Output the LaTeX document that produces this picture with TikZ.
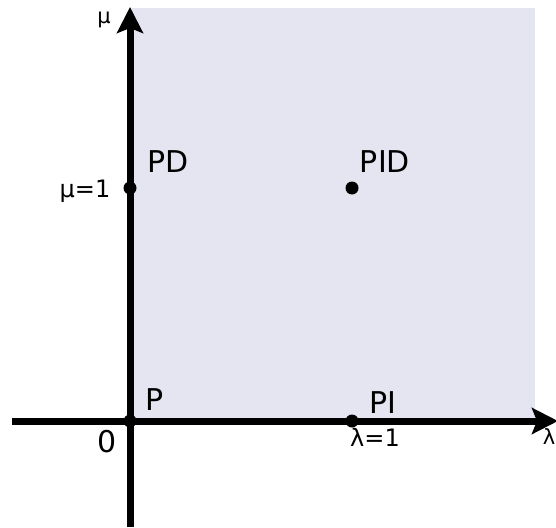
\documentclass[tikz,border=0pt]{standalone}
\usepackage{fontspec}
\setmainfont{DejaVu Sans}
\usetikzlibrary{arrows.meta}
\definecolor{regionfill}{RGB}{229,229,242}

\begin{document}
\begin{tikzpicture}[
        x=1pt, y=-1pt,
        axis/.style={line width=7pt, -{Stealth[length=26pt, width=26pt, inset=5pt]}},
        dot/.style={circle, fill=black, inner sep=0pt, minimum size=13pt},
        biglabel/.style={font=\fontsize{30}{34}\selectfont},
        ticklabel/.style={font=\fontsize{24}{28}\selectfont},
        axislabel/.style={font=\fontsize{21}{25}\selectfont}
    ]
        \useasboundingbox (0,0) rectangle (556,527);
        \fill[regionfill] (130,8) rectangle (535,421);

        \coordinate (xstart) at (12,421);
        \coordinate (xend) at (558,421);
        \coordinate (ystart) at (130,527);
        \coordinate (yend) at (130,7);
        \draw[axis] (xstart) -- (xend);
        \draw[axis] (ystart) -- (yend);

        \node[dot] (p) at (130,421) {};
        \node[dot] (pi) at (352,421) {};
        \node[dot] (pd) at (130,188) {};
        \node[dot] (pid) at (352,188) {};

        \node[biglabel] (plabel) at (155,400) {P};
        \node[biglabel] (pilabel) at (383,403) {PI};
        \node[biglabel] (pdlabel) at (168,162) {PD};
        \node[biglabel] (pidlabel) at (385,162) {PID};
        \node[biglabel] (origin) at (107,442) {0};

        \node[ticklabel] (mutick) at (85,191) {μ=1};
        \node[ticklabel] (lambdatick) at (375,437) {λ=1};
        \node[axislabel] (mulabel) at (104,20) {μ};
        \node[axislabel] (lambdalabel) at (549,437) {λ};
    \end{tikzpicture}
\end{document}
